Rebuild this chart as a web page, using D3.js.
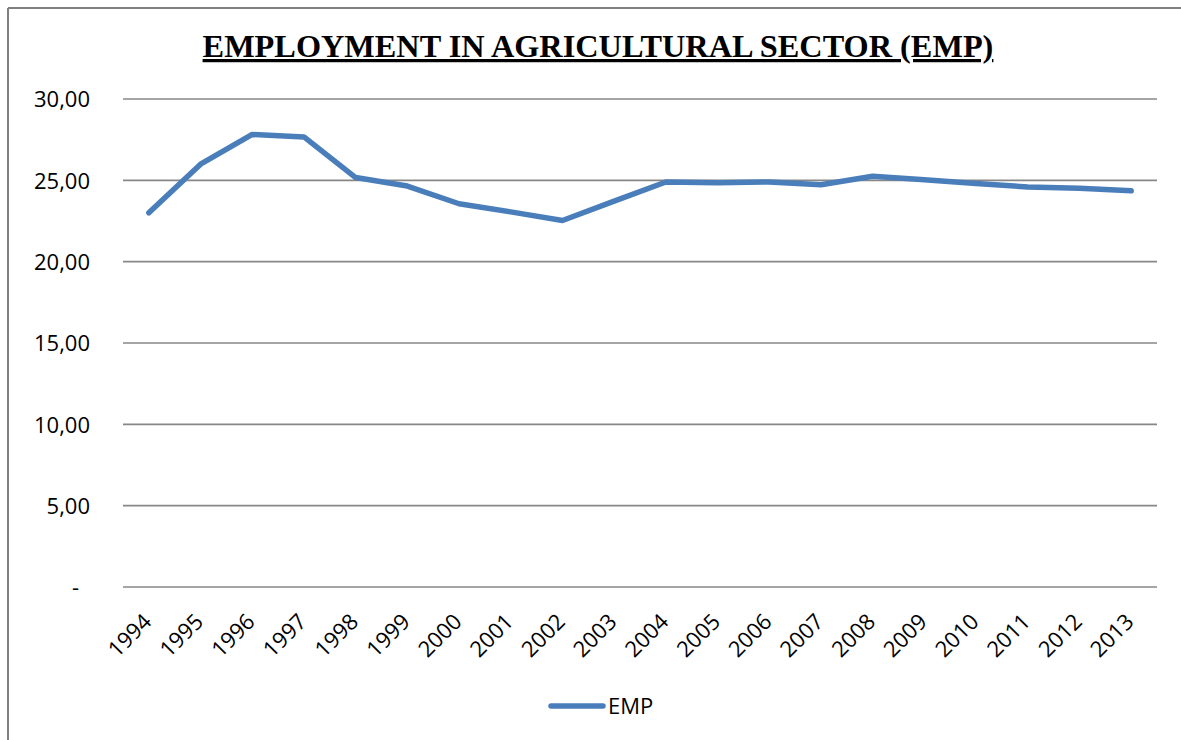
<!DOCTYPE html>
<html>
<head>
<meta charset="utf-8">
<script src="https://cdn.jsdelivr.net/npm/d3@7"></script>
<style>
  html, body { margin: 0; padding: 0; background: #fff; }
  svg { display: block; }
</style>
</head>
<body>
<svg id="chart" width="1181" height="740"></svg>
<script>
// Employment in agricultural sector, 1994–2013
const years = ["1994","1995","1996","1997","1998","1999","2000","2001","2002","2003",
               "2004","2005","2006","2007","2008","2009","2010","2011","2012","2013"];
const emp = [23.00, 25.99, 27.82, 27.67, 25.17, 24.65, 23.56, 23.06, 22.53, 23.72,
             24.90, 24.85, 24.90, 24.73, 25.25, 25.04, 24.81, 24.59, 24.52, 24.36];
const yTicks = [0, 5, 10, 15, 20, 25, 30];
const seriesName = "EMP";
const titleText = "EMPLOYMENT IN AGRICULTURAL SECTOR (EMP)";

const svg = d3.select("#chart");
const W = 1181, H = 740;
const plot = { left: 123, right: 1157, top: 99, bottom: 587 };
const blue = "#4a7ebb";
const gridColor = "#878787";
const labelFont = "'Open Sans', 'DejaVu Sans', sans-serif";
const labelSize = 22;

// frame of the chart area
svg.append("line").attr("x1", 8).attr("y1", 8).attr("x2", W).attr("y2", 8)
  .attr("stroke", "#7f7f7f").attr("stroke-width", 2);
svg.append("line").attr("x1", 8).attr("y1", 8).attr("x2", 8).attr("y2", H)
  .attr("stroke", "#7f7f7f").attr("stroke-width", 2);

// title, bold and underlined
svg.append("text")
  .attr("x", 598).attr("y", 57)
  .attr("text-anchor", "middle")
  .attr("font-family", "'Liberation Serif', 'Times New Roman', serif")
  .attr("font-weight", "bold")
  .attr("font-size", 32.3)
  .attr("text-decoration", "underline")
  .attr("fill", "#000")
  .text(titleText);

const x = d3.scaleBand().domain(years).range([plot.left, plot.right]);
const y = d3.scaleLinear().domain([0, 30]).range([plot.bottom, plot.top]);

// horizontal gridlines
svg.append("g")
  .selectAll("line")
  .data(yTicks)
  .join("line")
  .attr("x1", plot.left).attr("x2", plot.right)
  .attr("y1", d => y(d)).attr("y2", d => y(d))
  .attr("stroke", gridColor).attr("stroke-width", 1.6);

// y axis labels (accounting style: zero shown as a dash)
const yAxis = d3.axisLeft(y)
  .tickValues(yTicks)
  .tickSize(0)
  .tickPadding(0)
  .tickFormat(d => d === 0 ? "-" : d3.format(".2f")(d).replace(".", ","));
const yg = svg.append("g").attr("transform", `translate(90,0)`).call(yAxis);
yg.select(".domain").remove();
yg.selectAll("text")
  .attr("font-family", labelFont)
  .attr("font-size", labelSize)
  .attr("fill", "#000")
  .attr("dy", "0.35em")
  .attr("x", d => d === 0 ? -11 : 0);

// x axis labels, rotated
const xAxis = d3.axisBottom(x).tickSize(0).tickPadding(0);
const xg = svg.append("g").attr("transform", `translate(0,${plot.bottom})`).call(xAxis);
xg.select(".domain").remove();
xg.selectAll("text")
  .attr("font-family", labelFont)
  .attr("font-size", labelSize)
  .attr("fill", "#000")
  .attr("text-anchor", "end")
  .attr("dy", "0")
  .attr("y", 0)
  .attr("transform", "translate(4,36) rotate(-45)");

// series line
const line = d3.line()
  .x((d, i) => x(years[i]) + x.bandwidth() / 2)
  .y(d => y(d));
svg.append("path")
  .datum(emp)
  .attr("d", line)
  .attr("fill", "none")
  .attr("stroke", blue)
  .attr("stroke-width", 5.5)
  .attr("stroke-linejoin", "round")
  .attr("stroke-linecap", "round");

// legend
const lg = svg.append("g").attr("transform", "translate(549,706)");
lg.append("line").attr("x1", 2).attr("x2", 54).attr("y1", 0).attr("y2", 0)
  .attr("stroke", blue).attr("stroke-width", 5.5).attr("stroke-linecap", "round");
lg.append("text")
  .attr("x", 59).attr("y", 0).attr("dy", "0.35em")
  .attr("font-family", labelFont)
  .attr("font-size", labelSize)
  .attr("fill", "#000")
  .text(seriesName);
</script>
</body>
</html>
